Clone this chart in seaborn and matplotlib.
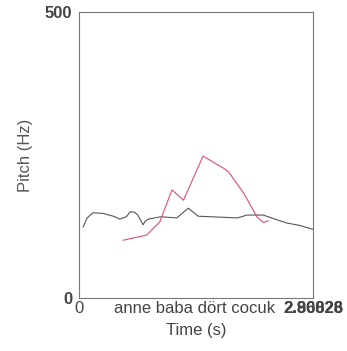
import matplotlib
matplotlib.use("Agg")
import matplotlib.pyplot as plt
import seaborn as sns
import pandas as pd

# pitch track, black line (time s, Hz)
black_time = [0.05, 0.10, 0.17, 0.29, 0.42, 0.50, 0.58, 0.63, 0.68, 0.72, 0.76,
              0.785, 0.81, 0.85, 1.00, 1.20, 1.28, 1.34, 1.40, 1.46, 1.94, 2.06,
              2.26, 2.40, 2.55, 2.70, 2.87]
black_pitch = [124, 140, 149, 148, 143, 138, 142, 151, 150, 145, 135,
               128, 134, 138, 142, 140, 150, 157, 150, 143, 140, 145,
               145, 138, 131, 127, 120]

# pitch track, red line
red_time = [0.54, 0.83, 0.99, 1.14, 1.28, 1.52, 1.77, 1.83, 2.02, 2.18, 2.26, 2.32]
red_pitch = [101, 110, 133, 189, 171, 248, 227, 221, 183, 142, 132, 135]

x_ticks = [0, 1.42]
x_labels = ["0", "anne baba dört cocuk"]
end_labels = ["2.86826", "2.90028"]
x_max = 2.868
y_max = 500

sns.set_style("white")
plt.rcParams["font.family"] = ["Liberation Sans", "DejaVu Sans"]

black = pd.DataFrame({"time": black_time, "pitch": black_pitch})
red = pd.DataFrame({"time": red_time, "pitch": red_pitch})

fig = plt.figure(figsize=(3.47, 3.51), dpi=100)
ax = fig.add_axes([79 / 347, 53 / 351, 234 / 347, 286 / 351])
sns.lineplot(data=black, x="time", y="pitch", ax=ax, color="#555555", linewidth=0.8)
sns.lineplot(data=red, x="time", y="pitch", ax=ax, color="#e0506a", linewidth=0.8)

ax.set_xlim(0, x_max)
ax.set_ylim(0, y_max)
ax.set_xticks(x_ticks)
ax.set_xticklabels(x_labels)
ax.set_yticks([0, y_max])
ax.tick_params(axis="y", length=4, width=0.8, color="#666666", labelsize=12,
               labelcolor="#444444", pad=1)
ax.tick_params(axis="x", length=0, labelsize=12, labelcolor="#444444", pad=2)
for lab in ax.get_yticklabels():
    lab.set_fontweight("bold")
# two overlapping end labels, as in the scan
for lab in end_labels:
    ax.annotate(lab, xy=(x_max, 0), xycoords=("data", "axes fraction"),
                xytext=(0, -2), textcoords="offset points", ha="center", va="top",
                fontsize=12, color="#444444", fontweight="bold")
ax.set_xlabel("Time (s)", fontsize=12, color="#444444", labelpad=5)
ax.set_ylabel("Pitch (Hz)", fontsize=12, color="#555555", labelpad=8)
for side in ax.spines.values():
    side.set_color("#777777")
    side.set_linewidth(0.8)

fig.savefig("out.png", dpi=100, facecolor="white")
